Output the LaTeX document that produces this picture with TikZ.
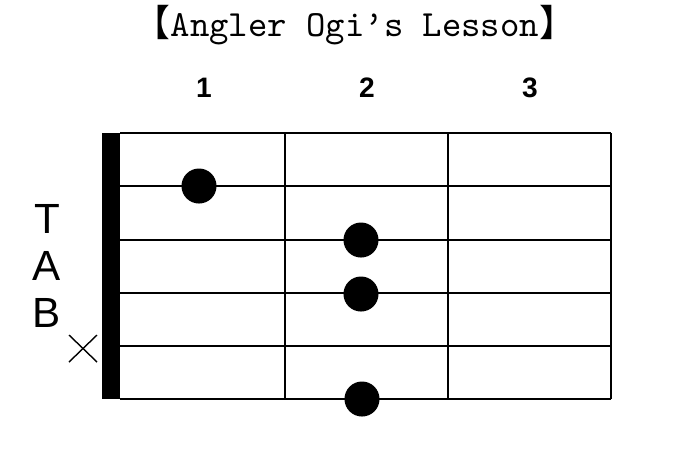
\documentclass[tikz,border=0pt]{standalone}
\usepackage{fontspec}
\newfontfamily\cjk{Noto Sans CJK SC}
\newfontfamily\tabfont{Liberation Sans}
\usetikzlibrary{positioning}

\begin{document}
\begin{tikzpicture}[x=0.01cm, y=-0.01cm,
	string/.style={line width=0.8pt},
	fret/.style={line width=0.8pt},
	finger/.style={circle, fill=black, inner sep=0pt, minimum size=0.35cm},
	fretnum/.style={anchor=base, font=\tabfont\bfseries\fontsize{8}{9}\selectfont},
	tabletter/.style={anchor=base, font=\tabfont\fontsize{12}{12}\selectfont}]
	\useasboundingbox (0,0) rectangle (700,450);

	% title %
	\node[anchor=base, font=\ttfamily\fontsize{10.5}{12}\selectfont] (title) at (355,36)
		{{\cjk 【}Angler Ogi’s Lesson{\cjk 】}};

	% fret numbers %
	\node[fretnum] (n1) at (204,97) {1};
	\node[fretnum] (n2) at (367,97) {2};
	\node[fretnum] (n3) at (530,97) {3};

	% nut %
	\fill (102,133) rectangle (120,399);

	% strings and frets %
	\foreach \y in {133,186,240,293,346,399}
		\draw[string] (120,\y) -- (611,\y);
	\foreach \x in {285,448,611}
		\draw[fret] (\x,133) -- (\x,399);

	% fingers %
	\node[finger] (f1) at (199,186) {};
	\node[finger] (f2) at (361,240) {};
	\node[finger] (f3) at (361,294) {};
	\node[finger] (f4) at (362,399) {};

	% TAB %
	\node[tabletter] (t) at (47,233) {T};
	\node[tabletter] (a) at (47,280) {A};
	\node[tabletter] (b) at (47,327) {B};

	% mute mark %
	\draw[line width=0.4pt] (69,335) -- (97,362);
	\draw[line width=0.4pt] (69,362) -- (97,335);
\end{tikzpicture}
\end{document}
